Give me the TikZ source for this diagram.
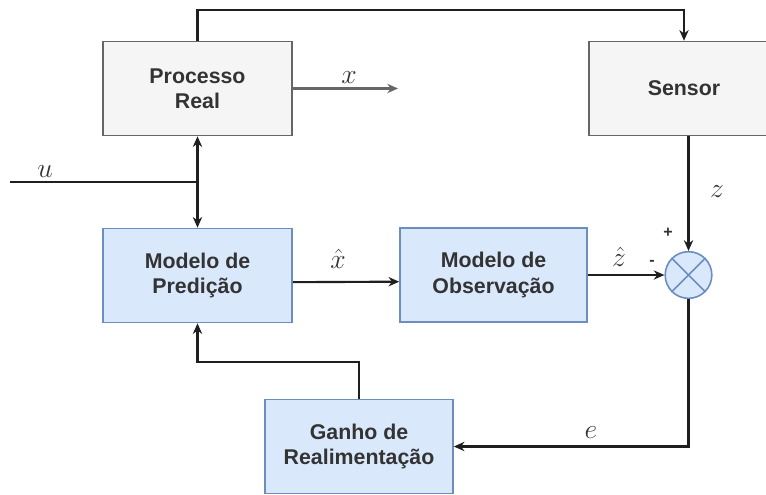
\documentclass[tikz,border=0pt]{standalone}
\usepackage{fontspec}
\newfontfamily\boxfont{Liberation Sans}
\usetikzlibrary{arrows.meta,positioning,calc}
\definecolor{realfill}{HTML}{F5F5F5}
\definecolor{realline}{HTML}{666666}
\definecolor{modfill}{HTML}{DAE8FC}
\definecolor{modline}{HTML}{6C8EBF}
\definecolor{wire}{HTML}{1F1F1F}
\definecolor{txt}{HTML}{333333}

\begin{document}
\begin{tikzpicture}[x=0.75pt, y=-0.75pt,
    block/.style={draw, line width=1.2pt, minimum width=141.75pt, minimum height=70.5pt, inner sep=0pt, align=center, text=txt, font=\boxfont\bfseries\fontsize{16}{19}\selectfont},
    realbox/.style={block, fill=realfill, draw=realline},
    modbox/.style={block, fill=modfill, draw=modline},
    wire/.style={draw=wire, line width=1.6pt},
    arr/.style={wire, -{Stealth[length=8pt, width=7pt]}},
    lbl/.style={text=txt, anchor=base, font=\fontsize{22}{26}\selectfont},
    sign/.style={text=txt, font=\boxfont\bfseries\fontsize{12}{14}\selectfont}]
    \clip (0,0) rectangle (766,494);
    \useasboundingbox (0,0) rectangle (766,494);

    \node[realbox] (proc) at (197.5,88.5) {Processo\\Real};
    \node[realbox, minimum width=142.5pt] (sensor) at (684,88.5) {Sensor};
    \node[modbox] (pred) at (197.5,275.5) {Modelo de\\Predição};
    \node[modbox, minimum width=140.25pt] (obs) at (493.5,275) {Modelo de\\Observação};
    \node[modbox, minimum width=141pt] (gain) at (359,446.5) {Ganho de\\Realimentação};
    \node[circle, draw=modline, fill=modfill, line width=1.2pt, minimum size=35pt, inner sep=0pt] (sum) at (688.5,275) {};
    \draw[modline, line width=1.2pt] (sum.north west) -- (sum.south east) (sum.north east) -- (sum.south west);

    \coordinate (uin) at (10,182); \coordinate (uj) at (197.5,182);
    \coordinate (xout) at (398,88.5); \coordinate (top) at (0,10); \coordinate (fb) at (0,362);

    % process, input and measurement
    \draw[arr] (proc.north) -- (proc.north |- top) -| (sensor.north);
    \draw[arr, draw=realline] (proc.east) -- (xout);
    \draw[wire] (uin) -- (uj);
    \draw[arr] (uj) -- (proc.south);
    \draw[arr] (uj) -- (pred.north);
    \draw[arr] (sum.north |- sensor.south) -- (sum.north);

    % estimator loop
    \draw[arr] ([yshift=-5pt]pred.east) -- ([yshift=-5pt]obs.west);
    \draw[arr] (obs.east) -- (sum.west);
    \draw[arr] (sum.south) |- (gain.east);
    \draw[arr] (gain.north) -- (gain.north |- fb) -| (pred.south);

    \node[lbl] (lx) at (349,83) {$x$};
    \node[lbl] (lu) at (45,177) {$u$};
    \node[lbl] (lxh) at (338,268) {$\hat{x}$};
    \node[lbl] (lzh) at (619,266) {$\hat{z}$};
    \node[lbl] (lz) at (717,197) {$z$};
    \node[lbl] (le) at (591,438) {$e$};
    \node[sign] (plus) at (668,233) {+};
    \node[sign] (minus) at (652,263) {-};
\end{tikzpicture}
\end{document}
